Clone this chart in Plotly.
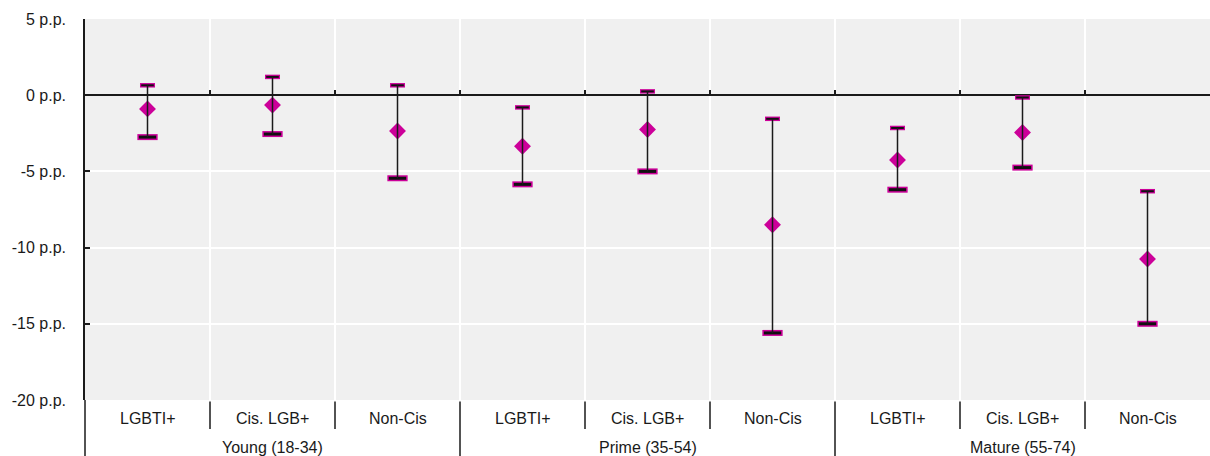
import plotly.graph_objects as go

# Age groups, each split into three sub-populations
groups = ["Young (18-34)", "Prime (35-54)", "Mature (55-74)"]
subgroups = ["LGBTI+", "Cis. LGB+", "Non-Cis"]

# Point estimates and confidence bounds, in percentage points
estimate = [-0.9, -0.65, -2.35, -3.35, -2.25, -8.5, -4.25, -2.45, -10.75]
upper = [0.65, 1.2, 0.65, -0.8, 0.25, -1.55, -2.15, -0.15, -6.3]
lower = [-2.75, -2.55, -5.45, -5.85, -5.0, -15.6, -6.2, -4.75, -15.0]

y_ticks = [5, 0, -5, -10, -15, -20]
y_range = [-20, 5]

MAGENTA = "#cc0099"
FONT = "Liberation Sans, Arial, sans-serif"
W, H = 1210, 456
M_L, M_R, M_T, M_B = 85, 0, 19, 56
plot_h = H - M_T - M_B

n_cat = len(groups) * len(subgroups)
xs = list(range(n_cat))
boundaries = [i + 0.5 for i in range(n_cat - 1)]

fig = go.Figure()

# Confidence interval stems
stem_x, stem_y = [], []
for x, lo, hi in zip(xs, lower, upper):
    stem_x += [x, x, None]
    stem_y += [lo, hi, None]
fig.add_trace(go.Scatter(x=stem_x, y=stem_y, mode="lines", xaxis="x2",
                         line=dict(color="#1a1a1a", width=1.5),
                         hoverinfo="skip", showlegend=False))

# Caps: magenta bar with a dark core
def add_cap(yvals, outer_size, outer_w, inner_size, inner_w):
    fig.add_trace(go.Scatter(x=xs, y=yvals, mode="markers", showlegend=False,
                             marker=dict(symbol="line-ew", size=outer_size,
                                         line=dict(color=MAGENTA, width=outer_w))))
    fig.add_trace(go.Scatter(x=xs, y=yvals, mode="markers", showlegend=False,
                             marker=dict(symbol="line-ew", size=inner_size,
                                         line=dict(color="#111111", width=inner_w))))

add_cap(upper, 10.7, 4.5, 9.0, 2)
add_cap(lower, 14.5, 6, 12.3, 3)

# Point estimates
fig.add_trace(go.Scatter(x=xs, y=estimate, mode="markers", showlegend=False,
                         marker=dict(symbol="diamond", size=13, color=MAGENTA,
                                     line=dict(width=0))))

# Category and group labels beneath the plot area
annotations = []
for gi, g in enumerate(groups):
    for si, s in enumerate(subgroups):
        annotations.append(dict(x=gi * len(subgroups) + si, y=0, xref="x", yref="paper",
                                text=s, showarrow=False, yanchor="middle", yshift=-18,
                                font=dict(family=FONT, size=16, color="#1a1a1a")))
    centre = gi * len(subgroups) + (len(subgroups) - 1) / 2
    annotations.append(dict(x=centre, y=0, xref="x", yref="paper", text=g,
                            showarrow=False, yanchor="middle", yshift=-47,
                            font=dict(family=FONT, size=16, color="#1a1a1a")))

# Separators between categories (short) and groups (long)
shapes = []
for b in boundaries:
    frac = (b + 0.5) / n_cat
    is_group = round(b + 0.5) % len(subgroups) == 0
    depth = (M_B if is_group else 29) / plot_h
    shapes.append(dict(type="line", xref="x domain", yref="paper",
                       x0=frac, x1=frac, y0=-1.5 / plot_h, y1=-depth,
                       line=dict(color="#1a1a1a", width=1.5)))
shapes.append(dict(type="line", xref="paper", yref="paper", x0=0, x1=0,
                   y0=0, y1=-M_B / plot_h, line=dict(color="#1a1a1a", width=1.5)))

zero_pos = (0 - y_range[0]) / (y_range[1] - y_range[0])

fig.update_layout(
    width=W, height=H,
    margin=dict(l=M_L, r=M_R, t=M_T, b=M_B),
    paper_bgcolor="white", plot_bgcolor="#f0f0f0",
    font=dict(family=FONT, size=16, color="#1a1a1a"),
    showlegend=False,
    annotations=annotations, shapes=shapes,
    xaxis=dict(range=[-0.5, n_cat - 0.5], tickmode="array", tickvals=boundaries,
               showticklabels=False, ticks="", showgrid=True, gridcolor="white",
               gridwidth=2, zeroline=False, showline=False, fixedrange=True),
    xaxis2=dict(range=[-0.5, n_cat - 0.5], overlaying="x", anchor="free",
                position=zero_pos, tickmode="array", tickvals=boundaries,
                ticks="inside", ticklen=5, tickwidth=1.5, tickcolor="#1a1a1a",
                showticklabels=False, showgrid=False, zeroline=False, showline=False),
    yaxis=dict(range=y_range, tickmode="array", tickvals=y_ticks,
               ticktext=[f"{v} p.p." for v in y_ticks],
               ticks="inside", ticklen=5, tickwidth=1.5, tickcolor="#1a1a1a",
               ticklabelstandoff=14,
               showgrid=True, gridcolor="white", gridwidth=2,
               zeroline=True, zerolinecolor="#1a1a1a", zerolinewidth=1.5,
               showline=True, linecolor="#1a1a1a", linewidth=1.5,
               tickfont=dict(family=FONT, size=16, color="#1a1a1a")),
)

fig.write_html("out.html")
